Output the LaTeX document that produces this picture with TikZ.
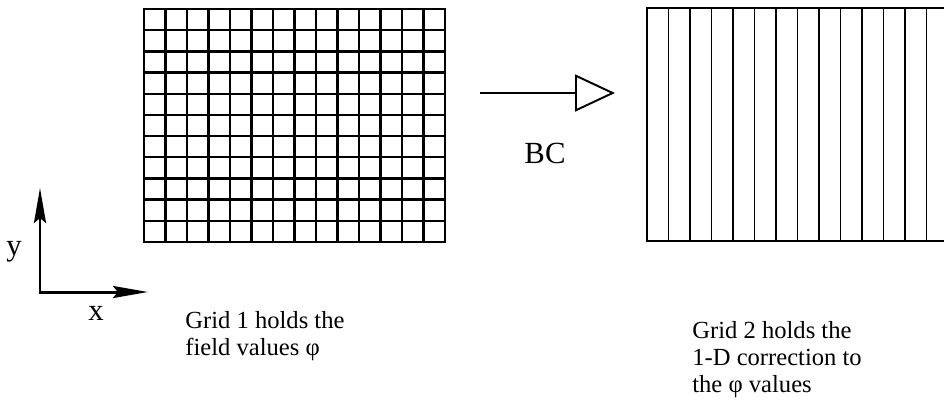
\documentclass[tikz,border=0pt]{standalone}
\usepackage{fontspec}
\setmainfont{Liberation Serif}
\usetikzlibrary{arrows.meta}
\tikzset{
  cell/.style={line width=1.3pt, draw=black},
  strip/.style={line width=1.1pt, draw=black},
  bcarr/.style={-{Triangle[open, length=8mm, width=7.4mm, line width=1.1pt]},
    line width=0.7pt},
  axis/.style={{Stealth[length=7mm, width=2.4mm, inset=1mm]}-{Stealth[length=7mm,
    width=2.4mm, inset=1mm]}, line width=1.7pt, line join=miter},
  note/.style={font={\fontsize{14}{15.4}\selectfont}, align=left,
    anchor=north west, inner sep=0pt},
  tag/.style={font={\fontsize{17.5}{20}\selectfont}, inner sep=0pt},
}
\begin{document}
\begin{tikzpicture}[x=0.02cm, y=-0.02cm]
  \useasboundingbox (0,0) rectangle (944,410);
  \clip (0,0) rectangle (944,410);
  % grid 1: field values
  \draw[cell] (144,9) rectangle (445,242);
  \foreach \i in {1,...,13}{
    \pgfmathsetmacro{\x}{144+\i*21.5}
    \draw[cell] (\x,9) -- (\x,242);}
  \foreach \j in {1,...,10}{
    \pgfmathsetmacro{\y}{9+\j*21.18}
    \draw[cell] (144,\y) -- (445,\y);}
  % grid 2: 1-D strips
  \draw[strip] (647,8) rectangle (948,241);
  \foreach \i in {1,...,13}{
    \pgfmathsetmacro{\x}{647+\i*21.5}
    \draw[strip] (\x,8) -- (\x,241);}
  % BC arrow
  \coordinate (bcfrom) at (480,93);
  \coordinate (bcto) at (615,93);
  \draw[bcarr] (bcfrom) -- (bcto);
  \node[tag] (bc) at (545,153) {BC};
  % axes
  \coordinate (origin) at (40,292);
  \coordinate (ytip) at (40,188);
  \coordinate (xtip) at (148,292);
  \draw[axis] (ytip) -- (origin) -- (xtip);
  \node[tag] (ylab) at (14,252) {y};
  \node[tag] (xlab) at (96,313) {x};
  % captions
  \node[note] (note1) at (185,311) {Grid 1 holds the\\field values φ};
  \node[note] (note2) at (692,321) {Grid 2 holds the\\1-D correction to\\the φ values};
\end{tikzpicture}
\end{document}
